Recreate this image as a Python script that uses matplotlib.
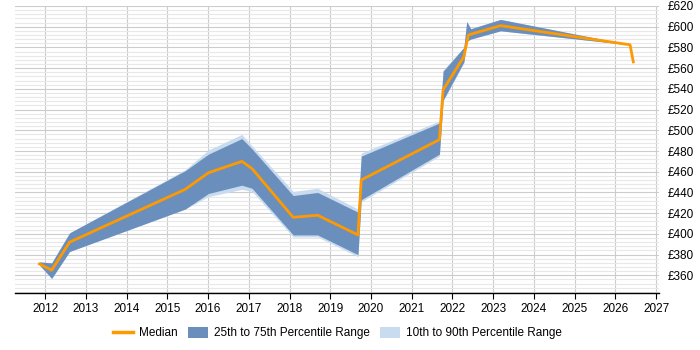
import numpy as np
import matplotlib
matplotlib.use('Agg')
import matplotlib.pyplot as plt
from matplotlib.patches import Patch
from matplotlib.lines import Line2D
from matplotlib.ticker import MultipleLocator, FuncFormatter

# median rate by date (decimal years)
median_years = [2011.86, 2012.16, 2012.60, 2015.44, 2016.01, 2016.83, 2017.08, 2018.09,
                2018.69, 2019.68, 2019.76, 2021.68, 2021.77, 2022.28, 2022.39, 2023.18,
                2026.36, 2026.44]
median = [371, 365, 392, 443, 459, 470, 463, 416,
          418, 399, 452, 491, 539, 571, 592, 601,
          582.5, 566]

# percentile bands
band_years = [2011.86, 2012.16, 2012.60, 2015.44, 2016.01, 2016.83, 2017.08, 2018.09,
              2018.69, 2019.68, 2019.76, 2021.68, 2021.77, 2022.28, 2022.35, 2022.45,
              2023.18, 2026.36]
p25 = [370, 357, 383, 424, 439, 447, 444, 399,
       399, 380, 433, 477, 529, 566, 586, 588,
       596, 582.5]
p75 = [373, 372, 401, 461, 477, 492, 482, 437,
       440, 421, 475, 507, 557, 580, 605, 598,
       607, 582.5]
p10 = [370, 357, 383, 424, 436, 443, 441, 397,
       397, 378, 431, 475, 528, 565, 586, 588,
       596, 582.5]
p90 = [373, 372, 401, 462, 481, 496, 485, 441,
       444, 424, 478, 509, 558, 580, 605, 598,
       607, 582.5]

year_ticks = list(range(2012, 2028))

plt.rcParams['font.family'] = ['Liberation Sans', 'DejaVu Sans']

fig = plt.figure(figsize=(7, 3.5), dpi=100)
ax = fig.add_axes([0.0214, 0.163, 0.920, 0.820])

ax.fill_between(band_years, p10, p90, color='#c9dbee', lw=0, zorder=2)
ax.fill_between(band_years, p25, p75, color='#6b8fbd', lw=0, zorder=3)
ax.plot(median_years, median, color='#ff9900', lw=2, zorder=4)

ax.set_xlim(2011.26, 2027.07)
ax.set_ylim(343, 620)
ax.set_xticks(year_ticks)
ax.yaxis.set_major_locator(MultipleLocator(20))
ax.yaxis.set_minor_locator(MultipleLocator(4))
ax.yaxis.set_major_formatter(FuncFormatter(lambda v, p: '£%d' % v))
ax.yaxis.tick_right()
ax.set_yticks([v for v in range(360, 621, 20)])

ax.grid(True, axis='x', color='#cccccc', lw=0.8, zorder=0)
ax.grid(True, axis='y', which='major', color='#cccccc', lw=0.8, zorder=0)
ax.grid(True, axis='y', which='minor', color='#e8e8e8', lw=0.8, zorder=0)
ax.set_axisbelow(True)

for s in ['top', 'left', 'right']:
    ax.spines[s].set_visible(False)
ax.spines['bottom'].set_color('black')
ax.spines['bottom'].set_linewidth(1)

ax.tick_params(axis='x', length=4, color='black', labelsize=8.5, pad=3)
ax.tick_params(axis='y', which='both', length=0, labelsize=8.5, pad=6)

handles = [Line2D([0], [0], color='#ff9900', lw=2.5),
           Patch(facecolor='#6b8fbd', edgecolor='none'),
           Patch(facecolor='#c9dbee', edgecolor='none')]
labels = ['Median', '25th to 75th Percentile Range', '10th to 90th Percentile Range']
fig.legend(handles, labels, loc='center', bbox_to_anchor=(0.482, 0.048), ncol=3,
           frameon=False, fontsize=8.5, handlelength=1.7, handleheight=1.0,
           columnspacing=0.9, handletextpad=0.5)

fig.savefig('out.png', dpi=100)
